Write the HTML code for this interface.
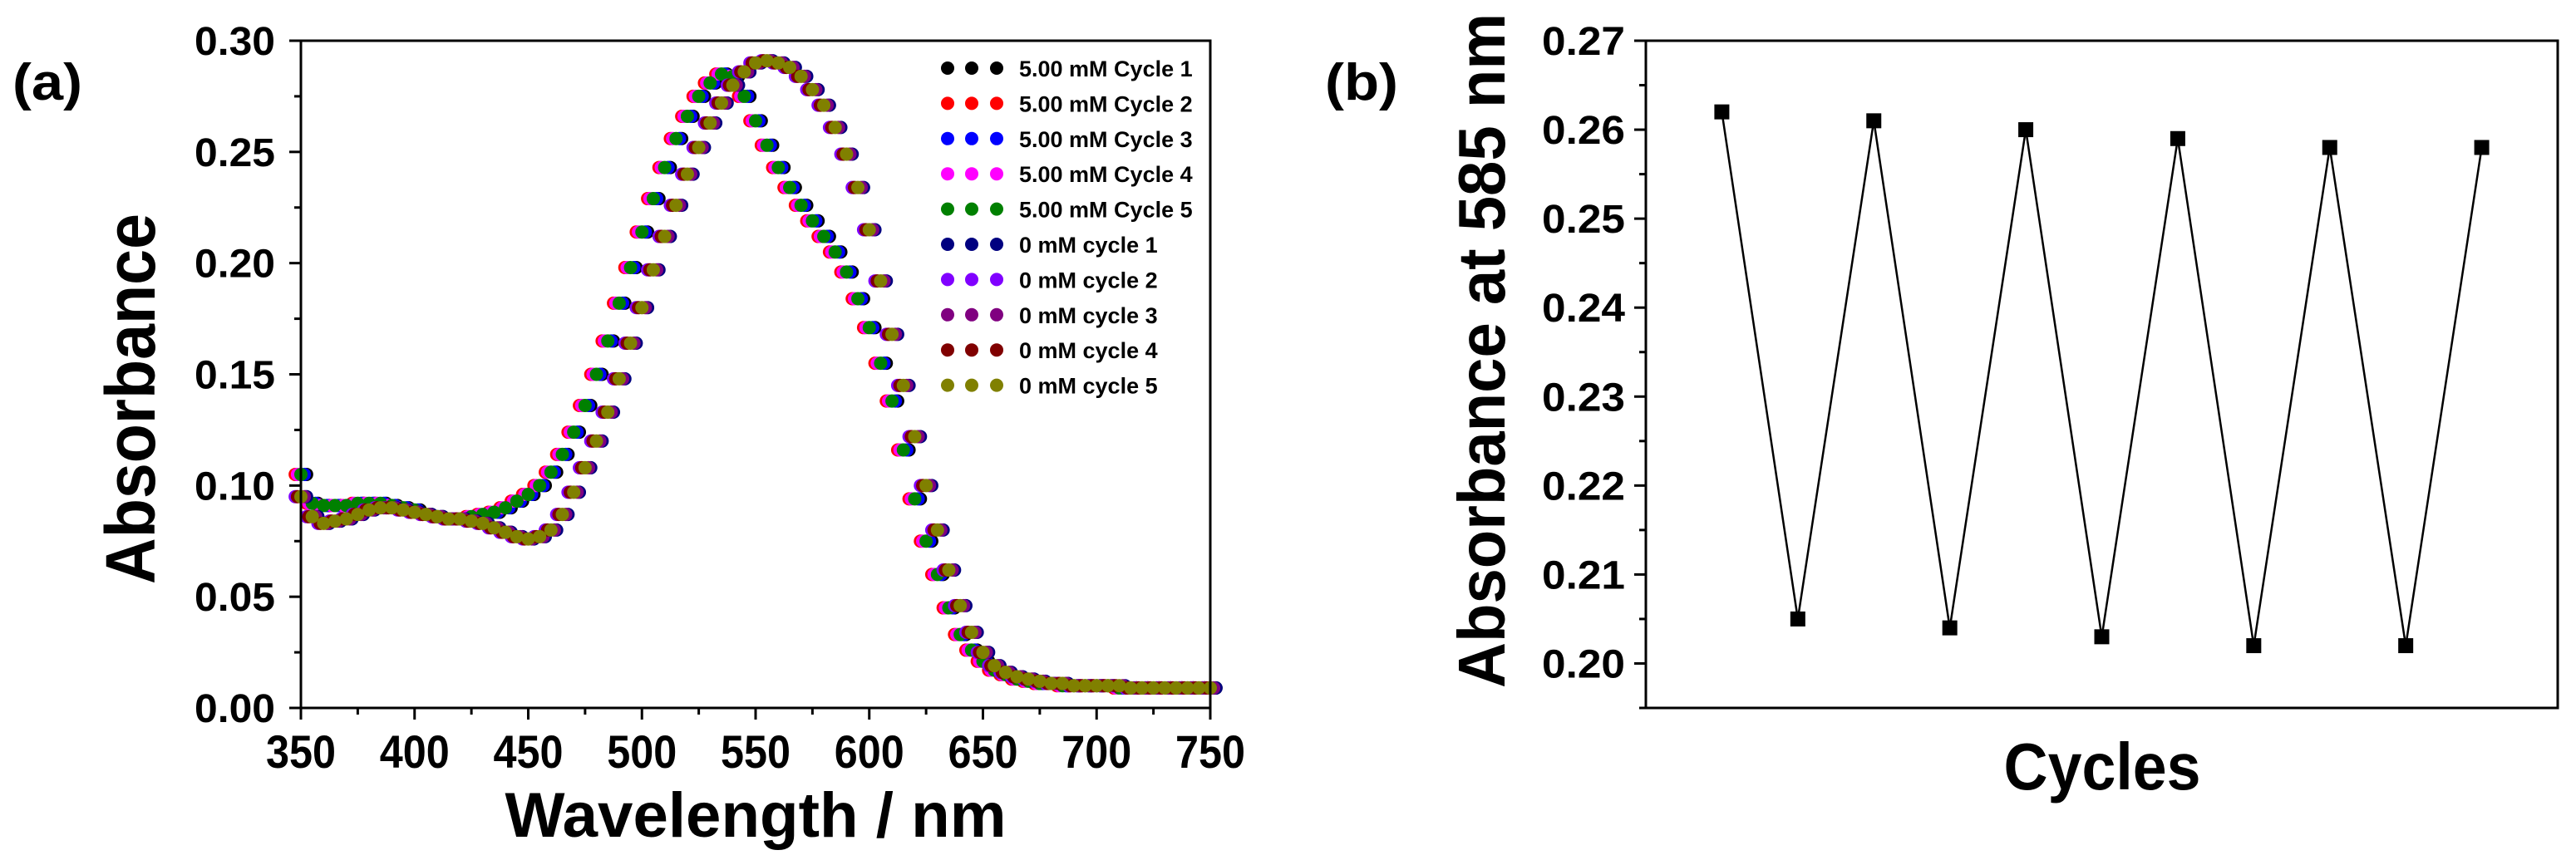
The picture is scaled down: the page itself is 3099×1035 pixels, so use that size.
<!DOCTYPE html>
<html><head><meta charset="utf-8"><style>
html,body{margin:0;padding:0;background:#fff;}
svg{display:block;}
text{font-family:"Liberation Sans",sans-serif;font-weight:bold;fill:#000;}
.nar{font-family:"Liberation Sans Narrow","Liberation Sans",sans-serif;}
</style></head><body>
<svg id="svg" width="3099" height="1035" viewBox="0 0 3099 1035" xmlns="http://www.w3.org/2000/svg">
<g id="pa"></g>
<g id="pb"></g>
</svg>
<script>
// ---- Panel (a) data ----
const wavelengths = [350,355,360,365,370,375,380,385,390,395,400,405,410,415,420,425,430,435,440,445,450,455,460,465,470,475,480,485,490,495,500,505,510,515,520,525,530,535,540,545,550,555,560,565,570,575,580,585,590,595,600,605,610,615,620,625,630,635,640,645,650,655,660,665,670,675,680,685,690,695,700,705,710,715,720,725,730,735,740,745,750];
const early = [0.105,0.092,0.091,0.091,0.091,0.092,0.092,0.092,0.091,0.090,0.089,0.087,0.086,0.085,0.085,0.086,0.087,0.088,0.090,0.093,0.096,0.100,0.106,0.114,0.124,0.136,0.150,0.165,0.182,0.198,0.214,0.229,0.243,0.256,0.266,0.275,0.281,0.285,0.284,0.275,0.264,0.253,0.243,0.234,0.226,0.219,0.212,0.205,0.196,0.184,0.171,0.155,0.138,0.116,0.094,0.075,0.060,0.045,0.033,0.026,0.021,0.017,0.015,0.013,0.012,0.011,0.011,0.010,0.010,0.010,0.010,0.010,0.009,0.009,0.009,0.009,0.009,0.009,0.009,0.009,0.009];
const late = [0.095,0.086,0.083,0.084,0.085,0.087,0.089,0.090,0.090,0.089,0.088,0.087,0.086,0.085,0.085,0.084,0.083,0.081,0.079,0.077,0.076,0.077,0.080,0.087,0.097,0.108,0.120,0.133,0.148,0.164,0.180,0.197,0.212,0.226,0.240,0.252,0.263,0.272,0.280,0.286,0.290,0.291,0.290,0.288,0.284,0.278,0.271,0.261,0.249,0.234,0.215,0.192,0.168,0.145,0.122,0.100,0.080,0.062,0.046,0.034,0.025,0.019,0.016,0.014,0.013,0.012,0.011,0.011,0.010,0.010,0.010,0.010,0.010,0.009,0.009,0.009,0.009,0.009,0.009,0.009,0.009];
const seriesNames = ["5.00 mM Cycle 1","5.00 mM Cycle 2","5.00 mM Cycle 3","5.00 mM Cycle 4","5.00 mM Cycle 5","0 mM cycle 1","0 mM cycle 2","0 mM cycle 3","0 mM cycle 4","0 mM cycle 5"];
const seriesColors = ["#000000","#ff0000","#0000ff","#ff00ff","#008000","#000080","#8000ff","#800080","#800000","#808000"];
const seriesGroup = [0,0,0,0,0,1,1,1,1,1];
const seriesShift = [2.5,-2.5,1.5,-1.5,0,2.5,-2.5,1.5,-1.5,0];
const xTicksA = [350,400,450,500,550,600,650,700,750];
const yTicksA = [0,0.05,0.10,0.15,0.20,0.25,0.30];
const yTickLabelsA = ["0.00","0.05","0.10","0.15","0.20","0.25","0.30"];
// ---- Panel (b) data ----
const cycleIdx = [1,2,3,4,5,6,7,8,9,10,11];
const abs585 = [0.262,0.205,0.261,0.204,0.260,0.203,0.259,0.202,0.258,0.202,0.258];
const yTicksB = [0.20,0.21,0.22,0.23,0.24,0.25,0.26,0.27];
const yTickLabelsB = ["0.20","0.21","0.22","0.23","0.24","0.25","0.26","0.27"];

const NS="http://www.w3.org/2000/svg";
function mk(parent,tag,attrs,txt){const e=document.createElementNS(NS,tag);for(const k in attrs)e.setAttribute(k,attrs[k]);if(txt!==undefined)e.textContent=txt;parent.appendChild(e);return e;}

// Panel a
const pa=document.getElementById('pa');
const AX0=362,AX1=1456,AY0=49,AY1=852;
const xa=v=>AX0+(v-350)/400*(AX1-AX0);
const ya=v=>AY1-(v/0.30)*(AY1-AY0);
let t;
t=mk(pa,'text',{x:15,y:120,'font-size':62,textLength:84,lengthAdjust:'spacingAndGlyphs'});t.textContent='(a)';


for(let s=0;s<seriesNames.length;s++){
  const g=mk(pa,'g',{});
  
  
  const vals=seriesGroup[s]===0?early:late;
  for(let i=0;i<wavelengths.length;i++){
    const c=mk(g,'ellipse',{cx:xa(wavelengths[i]+seriesShift[s]),cy:ya(vals[i]),rx:8,ry:8,fill:seriesColors[s]});
    
    
  }
}
const fa=mk(pa,'rect',{x:AX0,y:AY0,width:AX1-AX0,height:AY1-AY0,fill:'none',stroke:'#000','stroke-width':3});


for(let i=0;i<yTicksA.length;i++){
  const y=ya(yTicksA[i]);
  mk(pa,'line',{x1:AX0-14,x2:AX0,y1:y,y2:y,stroke:'#000','stroke-width':3});
  if(i<yTicksA.length-1){const ym=ya(yTicksA[i]+0.025);mk(pa,'line',{x1:AX0-8,x2:AX0,y1:ym,y2:ym,stroke:'#000','stroke-width':3});}
  t=mk(pa,'text',{x:331,y:y+17,'font-size':48,'text-anchor':'end',textLength:97,lengthAdjust:'spacingAndGlyphs'},yTickLabelsA[i]);
  
  
}
for(let i=0;i<xTicksA.length;i++){
  const x=xa(xTicksA[i]);
  mk(pa,'line',{x1:x,x2:x,y1:AY1,y2:AY1+14,stroke:'#000','stroke-width':3});
  if(i<xTicksA.length-1){const xm=xa(xTicksA[i]+25);mk(pa,'line',{x1:xm,x2:xm,y1:AY1,y2:AY1+8,stroke:'#000','stroke-width':3});}
  t=mk(pa,'text',{x:x,y:924,'font-size':56,'text-anchor':'middle',textLength:84,lengthAdjust:'spacingAndGlyphs'},String(xTicksA[i]));
  
  
}
t=mk(pa,'text',{x:909,y:1007,'font-size':76,'text-anchor':'middle',textLength:603,lengthAdjust:'spacingAndGlyphs'},'Wavelength / nm');


t=mk(pa,'text',{x:0,y:0,'font-size':84,'text-anchor':'middle',textLength:446,lengthAdjust:'spacingAndGlyphs',transform:'translate(186,480) rotate(-90)'},'Absorbance');


for(let s=0;s<seriesNames.length;s++){
  const y=82+s*42.4;
  const lg=mk(pa,'g',{});
  
  
  [1140,1169,1199].forEach(x=>mk(lg,'ellipse',{cx:x,cy:y,rx:8,ry:8,fill:seriesColors[s]}));
  mk(lg,'text',{x:1226,y:y+10,'font-size':27},seriesNames[s]);
}

// Panel b
const pb=document.getElementById('pb');
const BX0=1980,BX1=3077,BY0=49,BY1=852;
const xb=v=>BX0+(v/12)*(BX1-BX0);
const yb=v=>BY1-((v-0.195)/0.075)*(BY1-BY0);
t=mk(pb,'text',{x:1594,y:120,'font-size':62,textLength:88,lengthAdjust:'spacingAndGlyphs'},'(b)');


const fb=mk(pb,'rect',{x:BX0,y:BY0,width:BX1-BX0,height:BY1-BY0,fill:'none',stroke:'#000','stroke-width':3});


mk(pb,'line',{x1:BX0-6,x2:BX0,y1:BY1,y2:BY1,stroke:'#000','stroke-width':3});
for(let i=0;i<yTicksB.length;i++){
  const y=yb(yTicksB[i]);
  mk(pb,'line',{x1:BX0-14,x2:BX0,y1:y,y2:y,stroke:'#000','stroke-width':3});
  const ym=yb(yTicksB[i]-0.005);mk(pb,'line',{x1:BX0-8,x2:BX0,y1:ym,y2:ym,stroke:'#000','stroke-width':3});
  t=mk(pb,'text',{x:1955,y:y+17,'font-size':48,'text-anchor':'end',textLength:100,lengthAdjust:'spacingAndGlyphs'},yTickLabelsB[i]);
  
  
}
const pts=cycleIdx.map((c,i)=>xb(c)+','+yb(abs585[i])).join(' ');
const ln=mk(pb,'polyline',{points:pts,fill:'none',stroke:'#000','stroke-width':2.5});


for(let i=0;i<cycleIdx.length;i++){
  const r=mk(pb,'rect',{x:xb(cycleIdx[i])-9,y:yb(abs585[i])-9,width:18,height:18,fill:'#000'});
  
  
}
t=mk(pb,'text',{x:2529,y:950,'font-size':80,'text-anchor':'middle',textLength:237,lengthAdjust:'spacingAndGlyphs'},'Cycles');


t=mk(pb,'text',{x:0,y:0,'font-size':80,'text-anchor':'middle',textLength:812,lengthAdjust:'spacingAndGlyphs',transform:'translate(1810,422) rotate(-90)'},'Absorbance at 585 nm');


</script>
</body></html>
